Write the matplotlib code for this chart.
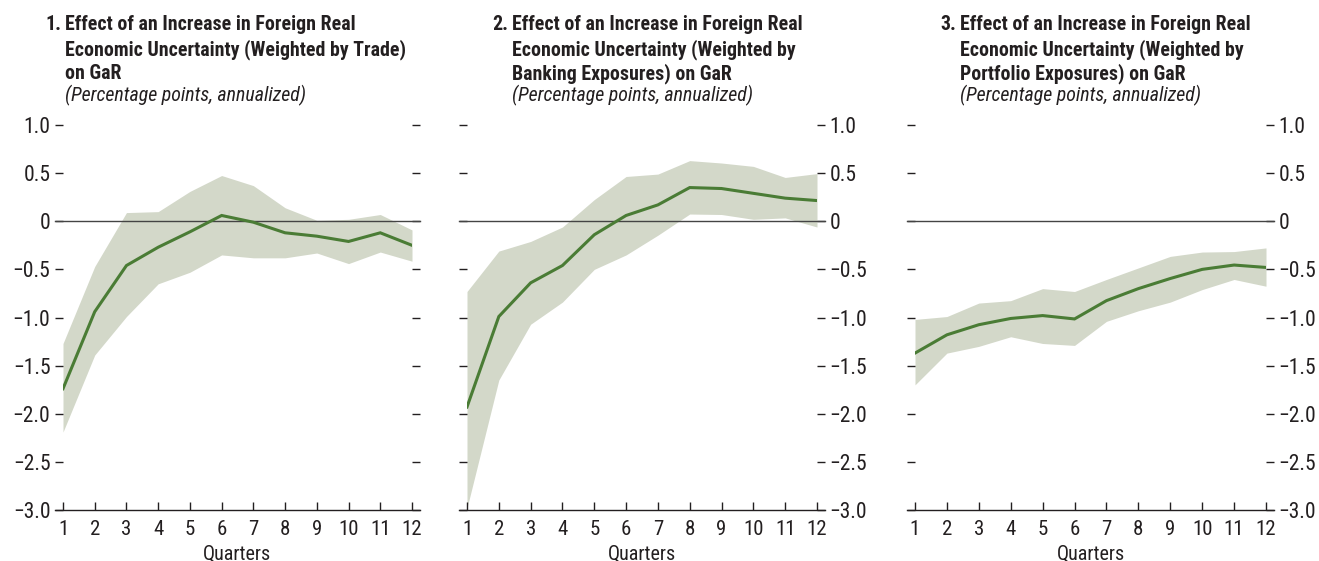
import matplotlib
matplotlib.use("Agg")
import matplotlib.pyplot as plt

quarters = list(range(1, 13))

trade_line = [-1.74, -0.94, -0.46, -0.27, -0.11, 0.06, -0.01, -0.12, -0.155, -0.21, -0.12, -0.25]
trade_upper = [-1.27, -0.47, 0.09, 0.10, 0.31, 0.475, 0.37, 0.14, 0.01, 0.02, 0.07, -0.09]
trade_lower = [-2.19, -1.39, -0.99, -0.65, -0.53, -0.35, -0.38, -0.38, -0.33, -0.44, -0.32, -0.415]

bank_line = [-1.93, -0.99, -0.64, -0.46, -0.14, 0.06, 0.17, 0.35, 0.34, 0.29, 0.24, 0.215]
bank_upper = [-0.73, -0.31, -0.21, -0.06, 0.225, 0.465, 0.49, 0.63, 0.605, 0.57, 0.455, 0.495]
bank_lower = [-2.98, -1.65, -1.07, -0.84, -0.50, -0.35, -0.145, 0.075, 0.07, 0.02, 0.035, -0.06]

port_line = [-1.37, -1.18, -1.075, -1.01, -0.98, -1.015, -0.825, -0.70, -0.595, -0.50, -0.455, -0.48]
port_upper = [-1.02, -0.99, -0.85, -0.825, -0.70, -0.73, -0.605, -0.485, -0.365, -0.32, -0.315, -0.277]
port_lower = [-1.70, -1.37, -1.30, -1.20, -1.27, -1.29, -1.04, -0.93, -0.84, -0.71, -0.605, -0.675]

title_numbers = ["1.", "2.", "3."]
title_lines = [
    ["Effect of an Increase in Foreign Real", "Economic Uncertainty (Weighted by Trade)", "on GaR"],
    ["Effect of an Increase in Foreign Real", "Economic Uncertainty (Weighted by", "Banking Exposures) on GaR"],
    ["Effect of an Increase in Foreign Real", "Economic Uncertainty (Weighted by", "Portfolio Exposures) on GaR"],
]
subtitle = "(Percentage points, annualized)"
yticks = [1.0, 0.5, 0.0, -0.5, -1.0, -1.5, -2.0, -2.5, -3.0]
ytick_labels = ["1.0", "0.5", "0", "\u22120.5", "\u22121.0", "\u22121.5", "\u22122.0", "\u22122.5", "\u22123.0"]
xlabel = "Quarters"

plt.rcParams["font.family"] = ["Roboto Condensed", "DejaVu Sans"]

LINE = "#4a7c35"
BAND = "#d3d8c9"
DARK = "#231f20"
FS_TICK = 15.5
FS_X = 15
FS_LABEL = 14.5
FS_TITLE = 14.3

fig = plt.figure(figsize=(13.19, 5.61), dpi=100)
W, H = 1319, 561
panels = [
    (63, 412, trade_line, trade_upper, trade_lower, "left"),
    (467, 817, bank_line, bank_upper, bank_lower, "right"),
    (915, 1266, port_line, port_upper, port_lower, "right"),
]
title_x = [45, 492, 940]
baselines = [30, 55, 79]
sub_baseline = 101
top_px, bot_px = 125, 510

for i, (l, r, ln, up, lo, side) in enumerate(panels):
    ax = fig.add_axes([l / W, 1 - bot_px / H, (r - l) / W, (bot_px - top_px) / H])
    ax.set_xlim(1, 12)
    ax.set_ylim(-3.0, 1.0)
    ax.fill_between(quarters, lo, up, color=BAND, lw=0, zorder=1)
    ax.plot(quarters, ln, color=LINE, lw=2.2, zorder=3, solid_joinstyle="miter")
    for s in ax.spines.values():
        s.set_visible(False)
    tr = ax.get_yaxis_transform()
    ext = 8 / (r - l)
    ax.plot([-ext, 1 + ext], [0, 0], transform=tr, color="#444444", lw=1.0, clip_on=False, zorder=2)
    ax.plot([-ext, 1 + ext], [-3, -3], transform=tr, color=DARK, lw=1.0, clip_on=False, zorder=2)
    ax.set_yticks(yticks)
    ax.set_yticklabels(ytick_labels)
    ax.tick_params(axis="y", which="both", left=True, right=True, direction="out", length=6, width=1,
                   color=DARK, labelsize=FS_TICK, labelcolor=DARK, pad=3,
                   labelleft=(side == "left"), labelright=(side == "right"))
    ax.set_xticks(quarters)
    ax.set_xticklabels([str(q) for q in quarters])
    ax.tick_params(axis="x", direction="in", length=6, width=1, color=DARK, labelsize=FS_X,
                   labelcolor=DARK, pad=7)
    ax.set_xlabel(xlabel, fontsize=FS_LABEL, color=DARK, labelpad=4)
    tx = title_x[i]
    fig.text(tx / W, 1 - baselines[0] / H, title_numbers[i], fontsize=FS_TITLE, fontweight="bold",
             color=DARK, va="baseline", ha="left")
    for j, line in enumerate(title_lines[i]):
        fig.text((tx + 20) / W, 1 - baselines[j] / H, line, fontsize=FS_TITLE, fontweight="bold",
                 color=DARK, va="baseline", ha="left")
    fig.text((tx + 20) / W, 1 - sub_baseline / H, subtitle, fontsize=FS_TITLE, style="italic",
             color=DARK, va="baseline", ha="left")

fig.savefig("out.png", dpi=100)
